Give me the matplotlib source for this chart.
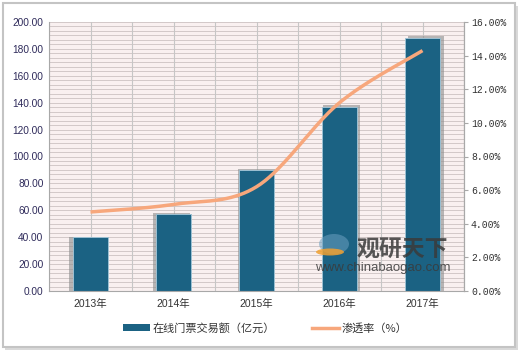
import numpy as np
import matplotlib
matplotlib.use("Agg")
import matplotlib.pyplot as plt
from matplotlib.patches import Rectangle, Ellipse
from matplotlib.lines import Line2D

plt.rcParams['font.family'] = ['Noto Sans CJK SC', 'DejaVu Sans']

years = ["2013年", "2014年", "2015年", "2016年", "2017年"]
amount = [40.0, 57.5, 90.0, 137.0, 188.0]          # 在线门票交易额（亿元）
rate = [4.70, 5.15, 6.20, 11.20, 14.30]             # 渗透率（%）
left_ticks = [0, 20, 40, 60, 80, 100, 120, 140, 160, 180, 200]
right_ticks = [0, 2, 4, 6, 8, 10, 12, 14, 16]
legend_labels = ["在线门票交易额（亿元）", "渗透率（%）"]

BAR = "#1b6283"
LINE = "#f7a77c"

fig = plt.figure(figsize=(5.2, 3.54), dpi=100)
fig.patch.set_facecolor("white")

# outer frame with shadow
W, H = 520, 354
fig.patches.append(Rectangle((5 / W, 4 / H), 513 / W, 344 / H, transform=fig.transFigure,
                             facecolor="#d9d9d9", edgecolor="none", zorder=-20))
fig.patches.append(Rectangle((3 / W, 7 / H), 512 / W, 344 / H, transform=fig.transFigure,
                             facecolor="white", edgecolor="#c4c4c4", lw=1.5, zorder=-10))

ax = fig.add_axes([49 / W, 1 - 291 / H, (464 - 49) / W, (291 - 22) / H])
ax.set_facecolor("#f9f0f0")
x = np.arange(len(years))

# grid
ax.set_xlim(-0.5, 4.5)
ax.set_ylim(0, 200)
for gy in np.arange(0, 200.01, 20 / 6):
    ax.axhline(gy, color="#d2c8c8", lw=0.7, zorder=0)
for gx in np.arange(-0.5, 4.51, 0.5):
    ax.axvline(gx, color="#c6c6c6", lw=0.8, zorder=0)

bw = 0.43
for i, (xi, v) in enumerate(zip(x, amount)):
    off = (i - 2) * 0.022
    ax.bar(xi + off, v + 1.5 * (i / 4), width=bw + 0.012, color="#8c8c8c", alpha=0.6,
           edgecolor="none", zorder=1)
ax.bar(x, amount, width=bw, color=BAR, edgecolor="#9cc0d2", lw=0.7, zorder=2)

ax.set_yticks(left_ticks)
ax.set_yticklabels([f"{t:.2f}" for t in left_ticks], fontsize=7.3,
                   color="#2e2a5a", family="Liberation Sans")
ax.set_xticks(x)
ax.set_xticklabels(years, fontsize=7.5, color="#333333",
                   family=["Liberation Sans", "Noto Sans CJK SC"])
ax.tick_params(axis="both", length=0, pad=4)
ax.tick_params(axis="x", pad=6)
ax.spines["top"].set_visible(False)
for s in ["left", "bottom", "right"]:
    ax.spines[s].set_color("#a8a8a8")

ax2 = ax.twinx()
ax2.set_ylim(0, 16)
ax2.set_yticks(right_ticks)
ax2.set_yticklabels([f"{t:.2f}%" for t in right_ticks], fontsize=7.0,
                    color="#333333", family="Liberation Mono")
ax2.tick_params(axis="y", length=3, color="#a8a8a8", pad=2)
for s in ["top", "left", "bottom"]:
    ax2.spines[s].set_visible(False)
ax2.spines["right"].set_color("#a8a8a8")

# smooth (Excel-like) line through the data points
xs = x.astype(float)
ys = np.array(rate, dtype=float)
px, py = [], []
n = len(xs)
for i in range(n - 1):
    p0 = np.array([xs[max(i - 1, 0)], ys[max(i - 1, 0)]])
    p1 = np.array([xs[i], ys[i]])
    p2 = np.array([xs[i + 1], ys[i + 1]])
    p3 = np.array([xs[min(i + 2, n - 1)], ys[min(i + 2, n - 1)]])
    c1 = p1 + (p2 - p0) / 6
    c2 = p2 - (p3 - p1) / 6
    t = np.linspace(0, 1, 40)[:, None]
    seg = (1 - t) ** 3 * p1 + 3 * (1 - t) ** 2 * t * c1 + 3 * (1 - t) * t ** 2 * c2 + t ** 3 * p2
    px.extend(seg[:, 0]); py.extend(seg[:, 1])
ax2.plot(px, py, color=LINE, lw=2.5, solid_capstyle="butt", zorder=3)

# watermark
fig.text(357 / W, 1 - 250 / H, "观研天下", fontsize=16.5, fontweight="bold",
         color="#3a3a3a", alpha=0.85, va="center", ha="left", zorder=10)
fig.text(315 / W, 1 - 268 / H, "www.chinabaogao.com", fontsize=9.5,
         color="#3a3a3a", alpha=0.85, va="center", ha="left", family="Liberation Sans",
         zorder=10)
fig.patches.append(Ellipse((334 / W, 1 - 244 / H), 30 / W, 20 / H,
                   transform=fig.transFigure, facecolor="#6a9fc0", alpha=0.55,
                   edgecolor="none", zorder=10))
fig.patches.append(Ellipse((330 / W, 1 - 252 / H), 28 / W, 7 / H,
                   transform=fig.transFigure, facecolor="#f0a030", alpha=0.85,
                   edgecolor="none", zorder=10))

# legend
handles = [Rectangle((0, 0), 1, 1, facecolor=BAR, edgecolor="none"),
           Line2D([0], [0], color=LINE, lw=2.5)]
fig.legend(handles, legend_labels, loc="center", bbox_to_anchor=(265 / W, 1 - 328 / H),
           ncol=2, frameon=False, fontsize=8, handlelength=2.4, handleheight=0.5,
           columnspacing=3.4, handletextpad=0.2, labelcolor="#333333")

fig.savefig("out.png", dpi=100)
